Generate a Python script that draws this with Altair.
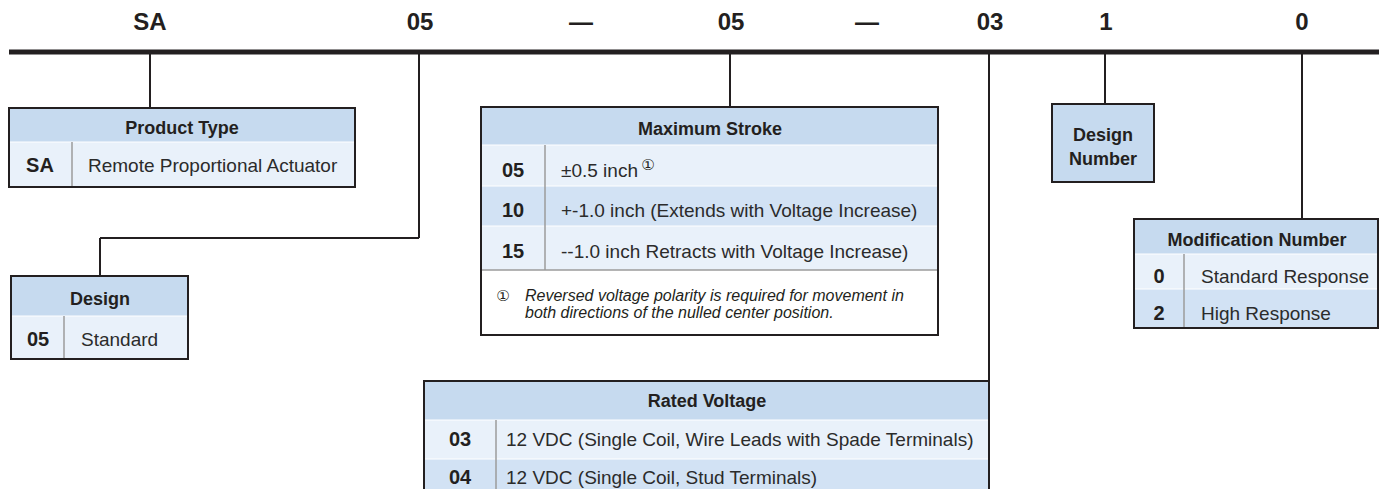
import altair as alt
import pandas as pd

# ---------------- content ----------------
top_codes = ["SA", "05", "—", "05", "—", "03", "1", "0"]
top_code_x = [150, 420, 581, 731, 867, 990, 1106, 1302]

box_titles = ["Product Type", "Design", "Maximum Stroke", "Rated Voltage", "Modification Number"]
title_x = [182, 100, 710, 707, 1257]
title_y = [134, 305, 135, 407, 246]

codes = ["SA", "05", "05", "10", "15", "03", "04", "0", "2"]
code_x = [40, 38, 513, 513, 513, 460, 460, 1159, 1159]
row_y = [172, 346, 177, 217, 258, 446, 484, 283, 320]
descs = ["Remote Proportional Actuator", "Standard", "±0.5 inch",
         "+-1.0 inch (Extends with Voltage Increase)",
         "--1.0 inch Retracts with Voltage Increase)",
         "12 VDC (Single Coil, Wire Leads with Spade Terminals)",
         "12 VDC (Single Coil, Stud Terminals)",
         "Standard Response", "High Response"]
desc_x = [88, 81, 561, 561, 561, 506, 506, 1201, 1201]

design_number_lines = ["Design", "Number"]
design_number_y = [141, 165]

footnote_lines = ["Reversed voltage polarity is required for movement in",
                  "both directions of the nulled center position."]
footnote_y = [301, 318]

# ---------------- layout ----------------
H, L, A, W = "#c6daef", "#e9f1fa", "#d2e2f4", "#ffffff"
fills = pd.DataFrame([
    (8, 355, 108, 142, H), (8, 355, 142, 187, L),
    (11, 188, 276, 316, H), (11, 188, 316, 359, L),
    (481, 938, 107, 145, H), (481, 938, 145, 186, L), (481, 938, 186, 226, A),
    (481, 938, 226, 270, L), (481, 938, 270, 335, W),
    (424, 989, 381, 420, H), (424, 989, 420, 459, L), (424, 989, 459, 505, A),
    (1052, 1154, 104, 182, H),
    (1134, 1378, 219, 254, H), (1134, 1378, 254, 289, L), (1134, 1378, 289, 328, A),
], columns=["x", "x2", "y", "y2", "c"])

outlines = pd.DataFrame([
    (9, 355, 108, 187), (11, 188, 276, 359), (481, 938, 107, 335),
    (424, 989, 381, 515), (1052, 1154, 104, 182), (1134, 1378, 219, 328),
], columns=["x", "x2", "y", "y2"])

dividers = pd.DataFrame([
    (72, 72, 142, 187), (64, 64, 316, 359), (545, 545, 145, 270),
    (496, 496, 420, 505), (1184, 1184, 254, 328), (481, 938, 270, 270),
], columns=["x", "x2", "y", "y2"])

seps = pd.DataFrame([
    (481, 938, 186, 186), (481, 938, 226, 226), (424, 989, 459, 459),
    (1134, 1378, 289, 289), (8, 355, 142, 142), (11, 188, 316, 316),
    (481, 938, 145, 145), (424, 989, 420, 420), (1134, 1378, 254, 254),
], columns=["x", "x2", "y", "y2"])

connectors = pd.DataFrame([
    (150, 150, 52, 108), (419, 419, 52, 238), (100, 419, 238, 238),
    (100, 100, 238, 276), (730, 730, 52, 107), (989, 989, 52, 381),
    (1105, 1105, 52, 104), (1302, 1302, 52, 219),
], columns=["x", "x2", "y", "y2"])

topline = pd.DataFrame([(9, 1385, 52, 52)], columns=["x", "x2", "y", "y2"])

INK = "#231f20"
FONT = "Liberation Sans, Arial, Helvetica, sans-serif"

xs = alt.Scale(domain=[8, 1379])
ys = alt.Scale(domain=[8, 489], reverse=True)
X = lambda f="x": alt.X(f"{f}:Q", scale=xs, axis=None)
Y = lambda f="y": alt.Y(f"{f}:Q", scale=ys, axis=None)

fill_layer = alt.Chart(fills).mark_rect(clip=True).encode(
    x=X(), x2="x2", y=Y(), y2="y2", fill=alt.Fill("c:N", scale=None))
sep_layer = alt.Chart(seps).mark_rule(color="#ffffff", strokeWidth=1, clip=True).encode(
    x=X(), x2="x2", y=Y(), y2="y2")
div_layer = alt.Chart(dividers).mark_rule(color="#9b9b9b", strokeWidth=1.5, clip=True).encode(
    x=X(), x2="x2", y=Y(), y2="y2")
outline_layer = alt.Chart(outlines).mark_rect(filled=False, stroke=INK, strokeWidth=2, clip=True).encode(
    x=X(), x2="x2", y=Y(), y2="y2")
conn_layer = alt.Chart(connectors).mark_rule(color=INK, strokeWidth=2, clip=True).encode(
    x=X(), x2="x2", y=Y(), y2="y2")
top_layer = alt.Chart(topline).mark_rule(color=INK, strokeWidth=5, clip=True).encode(
    x=X(), x2="x2", y=Y(), y2="y2")

top_df = pd.DataFrame({"t": top_codes, "x": top_code_x, "y": [30] * len(top_codes)})
top_text = alt.Chart(top_df).mark_text(font=FONT, fontSize=24, fontWeight="bold", color=INK,
                                        align="center", baseline="alphabetic").encode(
    x=X(), y=Y(), text="t:N")

title_df = pd.DataFrame({"t": box_titles, "x": title_x, "y": title_y})
title_text = alt.Chart(title_df).mark_text(font=FONT, fontSize=18, fontWeight="bold", color=INK,
                                            align="center", baseline="alphabetic").encode(
    x=X(), y=Y(), text="t:N")

dn_df = pd.DataFrame({"t": design_number_lines, "x": [1103, 1103], "y": design_number_y})
dn_text = alt.Chart(dn_df).mark_text(font=FONT, fontSize=18, fontWeight="bold", color=INK,
                                      align="center", baseline="alphabetic").encode(
    x=X(), y=Y(), text="t:N")

code_df = pd.DataFrame({"t": codes, "x": code_x, "y": row_y})
code_text = alt.Chart(code_df).mark_text(font=FONT, fontSize=20, fontWeight="bold", color=INK,
                                          align="center", baseline="alphabetic", clip=True).encode(
    x=X(), y=Y(), text="t:N")

desc_df = pd.DataFrame({"t": descs, "x": desc_x, "y": row_y})
desc_text = alt.Chart(desc_df).mark_text(font=FONT, fontSize=19, color="#2b2b2b",
                                          align="left", baseline="alphabetic", clip=True).encode(
    x=X(), y=Y(), text="t:N")

sup_df = pd.DataFrame({"t": ["①", "①"], "x": [648, 503], "y": [165, 296]})
sup_text = alt.Chart(sup_df).mark_text(font="DejaVu Sans", fontSize=15, color=INK,
                                        align="center", baseline="middle").encode(
    x=X(), y=Y(), text="t:N")

fn_df = pd.DataFrame({"t": footnote_lines, "x": [525, 525], "y": footnote_y})
fn_text = alt.Chart(fn_df).mark_text(font=FONT, fontSize=16, fontStyle="italic", color=INK,
                                      align="left", baseline="alphabetic").encode(
    x=X(), y=Y(), text="t:N")

chart = alt.layer(
    fill_layer, sep_layer, div_layer, outline_layer, conn_layer, top_layer,
    top_text, title_text, dn_text, code_text, desc_text, sup_text, fn_text,
).properties(
    width=1371, height=481, padding=0, autosize=alt.AutoSizeParams(type="none")
).configure_view(strokeWidth=0)

chart.save("out.html", embed_options={"renderer": "svg", "actions": False})
